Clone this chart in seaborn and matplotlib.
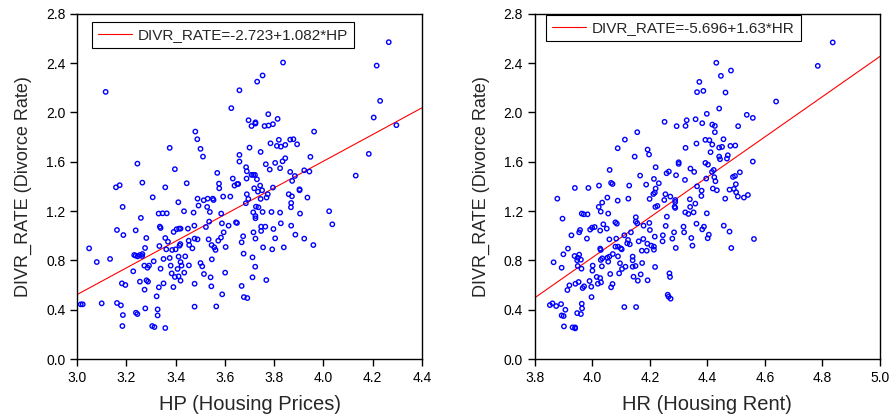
import numpy as np
import pandas as pd
import seaborn as sns
import matplotlib
matplotlib.use('Agg')
import matplotlib.pyplot as plt
from matplotlib.ticker import FormatStrFormatter, MultipleLocator

# points (HP vs divorce rate)
hp_x = [4.265, 3.836, 4.216, 3.753, 3.731, 3.116, 3.659, 4.23, 3.626, 3.776, 3.696, 3.724, 3.724,
        3.814, 4.204, 4.296, 3.761, 3.777, 3.795, 3.708, 3.480, 3.962, 3.488, 3.819, 3.865, 3.878,
        3.785, 3.893, 3.811, 3.827, 3.845, 3.376, 3.7, 3.501, 3.745, 4.184, 3.659, 3.511, 3.947,
        3.845, 3.659, 3.834, 3.245, 3.766, 3.804, 3.686, 3.782, 3.824, 3.397, 3.689, 3.922, 3.943,
        3.569, 3.865, 4.131, 3.884, 3.708, 3.715, 3.722, 3.688, 3.73, 3.873, 3.632, 3.265, 3.445,
        3.576, 3.639, 3.65, 3.654, 3.577, 3.719, 3.743, 3.795, 3.158, 3.173, 3.358, 3.734, 3.751,
        3.689, 3.774, 3.859, 3.872, 3.903, 3.903, 3.307, 3.489, 3.514, 3.53, 3.551, 3.554, 3.593,
        3.622, 3.695, 3.745, 3.769, 3.935, 3.411, 3.493, 3.528, 3.685, 3.869, 3.185, 3.726, 3.736,
        3.868, 3.539, 3.434, 3.473, 3.331, 3.347, 3.364, 3.585, 3.715, 3.753, 3.789, 3.824, 3.905,
        4.023, 3.724, 3.724, 3.259, 3.536, 3.645, 3.649, 3.588, 3.615, 3.476, 3.523, 3.336, 3.339,
        3.827, 4.036, 3.869, 3.747, 3.764, 3.45, 3.404, 3.414, 3.42, 3.238, 3.162, 3.392, 3.595,
        3.716, 3.747, 3.797, 3.188, 3.886, 3.674, 3.584, 3.281, 3.358, 3.477, 3.489, 3.534, 3.724,
        3.804, 3.922, 3.573, 3.453, 3.369, 3.668, 3.455, 3.419, 3.416, 3.546, 3.557, 3.959, 3.334,
        3.362, 3.276, 3.4, 3.386, 3.468, 3.562, 3.603, 3.049, 3.755, 3.792, 3.839, 3.232, 3.238,
        3.246, 3.255, 3.265, 3.264, 3.676, 3.439, 3.412, 3.134, 3.351, 3.376, 3.547, 3.712, 3.08,
        3.42, 3.311, 3.424, 3.38, 3.454, 3.273, 3.292, 3.286, 3.501, 3.508, 3.723, 3.339, 3.408,
        3.228, 3.435, 3.384, 3.515, 3.601, 3.397, 3.412, 3.542, 3.712, 3.42, 3.255, 3.282, 3.288,
        3.768, 3.182, 3.196, 3.477, 3.351, 3.668, 3.391, 3.332, 3.545, 3.274, 3.589, 3.323, 3.677,
        3.691, 3.015, 3.023, 3.1, 3.162, 3.178, 3.477, 3.565, 3.277, 3.327, 3.239, 3.245, 3.186,
        3.327, 3.184, 3.305, 3.314, 3.358]
hp_y = [2.57, 2.405, 2.38, 2.30, 2.25, 2.167, 2.18, 2.094, 2.035, 1.986, 1.937, 1.92, 1.91,
        1.948, 1.959, 1.897, 1.89, 1.894, 1.905, 1.89, 1.845, 1.845, 1.783, 1.778, 1.78, 1.783,
        1.75, 1.742, 1.729, 1.723, 1.737, 1.713, 1.715, 1.705, 1.68, 1.664, 1.656, 1.642, 1.64,
        1.629, 1.602, 1.604, 1.585, 1.58, 1.591, 1.556, 1.537, 1.548, 1.54, 1.523, 1.531, 1.521,
        1.51, 1.518, 1.488, 1.485, 1.494, 1.494, 1.494, 1.464, 1.458, 1.445, 1.464, 1.431, 1.426,
        1.423, 1.407, 1.42, 1.42, 1.385, 1.385, 1.407, 1.391, 1.393, 1.41, 1.393, 1.358, 1.369,
        1.337, 1.337, 1.337, 1.32, 1.377, 1.369, 1.312, 1.301, 1.288, 1.301, 1.301, 1.29, 1.318,
        1.318, 1.299, 1.299, 1.31, 1.31, 1.272, 1.245, 1.234, 1.264, 1.266, 1.234, 1.236, 1.231,
        1.231, 1.193, 1.199, 1.188, 1.18, 1.182, 1.182, 1.18, 1.19, 1.193, 1.193, 1.188, 1.18,
        1.199, 1.16, 1.142, 1.145, 1.115, 1.109, 1.104, 1.101, 1.082, 1.082, 1.071, 1.074, 1.063,
        1.101, 1.093, 1.082, 1.074, 1.074, 1.058, 1.053, 1.058, 1.058, 1.044, 1.047, 1.031, 1.028,
        1.028, 1.039, 1.055, 1.006, 1.009, 0.996, 0.985, 0.982, 0.982, 0.977, 0.971, 0.971, 0.977,
        0.979, 0.977, 0.96, 0.96, 0.952, 0.947, 0.925, 0.933, 0.92, 0.925, 0.906, 0.925, 0.917,
        0.89, 0.901, 0.89, 0.885, 0.898, 0.885, 0.909, 0.898, 0.906, 0.89, 0.906, 0.844, 0.839,
        0.833, 0.844, 0.852, 0.836, 0.855, 0.833, 0.831, 0.812, 0.812, 0.82, 0.809, 0.825, 0.787,
        0.787, 0.793, 0.758, 0.758, 0.76, 0.758, 0.758, 0.741, 0.779, 0.752, 0.749, 0.733, 0.731,
        0.712, 0.701, 0.695, 0.69, 0.701, 0.666, 0.671, 0.663, 0.663, 0.636, 0.628, 0.639, 0.628,
        0.641, 0.614, 0.601, 0.611, 0.614, 0.593, 0.584, 0.582, 0.59, 0.563, 0.525, 0.509, 0.503,
        0.495, 0.444, 0.444, 0.452, 0.455, 0.436, 0.425, 0.427, 0.411, 0.403, 0.376, 0.365, 0.357,
        0.354, 0.268, 0.268, 0.26, 0.252]

# points (HR vs divorce rate)
hr_x = [4.836, 4.431, 4.784, 4.482, 4.447, 4.372, 4.364, 4.386, 4.463, 4.639, 4.441, 4.537, 4.558,
        4.398, 4.359, 4.328, 4.251, 4.382, 4.417, 4.426, 4.293, 4.324, 4.507, 4.426, 4.156, 4.113,
        4.393, 4.407, 4.456, 4.362, 4.417, 4.441, 4.451, 4.48, 4.497, 4.088, 4.324, 4.192, 4.197,
        4.411, 4.147, 4.441, 4.444, 4.468, 4.471, 4.3, 4.3, 4.393, 4.402, 4.558, 4.22, 4.341,
        4.354, 4.422, 4.416, 4.513, 4.258, 4.266, 4.291, 4.166, 4.424, 4.428, 4.396, 4.489, 4.496,
        4.06, 4.214, 4.322, 4.231, 4.065, 4.07, 4.187, 4.128, 4.023, 4.364, 4.499, 3.939, 3.986,
        4.22, 4.419, 4.433, 4.38, 4.477, 4.492, 4.212, 4.217, 4.254, 4.271, 4.379, 4.5, 4.506,
        4.527, 4.541, 4.052, 4.125, 4.199, 4.25, 4.288, 4.288, 4.339, 4.462, 3.878, 4.034, 4.088,
        4.358, 4.286, 4.288, 4.219, 4.226, 4.022, 4.34, 4.029, 4.055, 4.323, 4.334, 4.352, 4.398,
        3.963, 3.97, 3.983, 4.151, 4.259, 3.896, 4.151, 4.156, 4.08, 4.085, 4.198, 4.038, 4.362,
        4.178, 4.255, 4.317, 4.388, 4.457, 3.992, 3.999, 4.008, 4.05, 4.2, 4.382, 3.957, 3.954,
        4.027, 4.134, 4.284, 4.477, 4.319, 4.111, 4.217, 4.245, 4.405, 4.401, 3.927, 3.981, 4.059,
        4.083, 4.278, 4.344, 4.562, 4.161, 4.177, 4.121, 4.124, 4.13, 4.244, 4.191, 4.205, 4.214,
        4.348, 4.08, 4.089, 4.099, 4.102, 4.027, 4.029, 3.915, 4.29, 4.483, 4.172, 4.189, 4.214,
        3.899, 3.938, 3.954, 3.949, 4.071, 4.089, 4.14, 4.052, 4.059, 4.034, 4.029, 3.947, 3.96,
        4.14, 3.865, 4.055, 4.096, 4.173, 3.949, 4.001, 4.033, 4.15, 4.14, 4.115, 4.218, 3.893,
        3.962, 4.103, 4.0, 4.093, 4.062, 4.168, 4.268, 4.27, 4.143, 4.015, 4.027, 4.158, 4.192,
        3.952, 4.03, 4.019, 3.99, 3.941, 4.07, 4.065, 3.92, 3.971, 3.966, 3.996, 3.913, 4.262,
        4.265, 4.272, 3.997, 3.852, 3.861, 3.874, 3.891, 3.963, 3.964, 3.906, 4.111, 4.152, 3.947,
        3.96, 3.893, 3.9, 3.901, 3.931, 3.94, 3.94]
hr_y = [2.568, 2.403, 2.378, 2.34, 2.297, 2.248, 2.165, 2.175, 2.162, 2.089, 2.032, 1.981, 1.956,
        1.989, 1.945, 1.937, 1.924, 1.913, 1.902, 1.891, 1.889, 1.891, 1.889, 1.84, 1.84, 1.78,
        1.778, 1.775, 1.783, 1.748, 1.74, 1.715, 1.721, 1.729, 1.732, 1.71, 1.713, 1.699, 1.659,
        1.678, 1.642, 1.642, 1.621, 1.626, 1.653, 1.596, 1.583, 1.591, 1.577, 1.602, 1.556, 1.545,
        1.518, 1.534, 1.518, 1.515, 1.507, 1.521, 1.491, 1.488, 1.475, 1.442, 1.464, 1.477, 1.485,
        1.534, 1.461, 1.453, 1.426, 1.429, 1.42, 1.415, 1.407, 1.407, 1.401, 1.418, 1.388, 1.388,
        1.383, 1.383, 1.369, 1.366, 1.374, 1.38, 1.339, 1.35, 1.337, 1.318, 1.323, 1.353, 1.318,
        1.31, 1.331, 1.31, 1.301, 1.299, 1.29, 1.29, 1.274, 1.296, 1.301, 1.301, 1.269, 1.285,
        1.261, 1.236, 1.226, 1.234, 1.242, 1.234, 1.234, 1.196, 1.18, 1.19, 1.177, 1.19, 1.182,
        1.18, 1.174, 1.174, 1.15, 1.155, 1.139, 1.115, 1.101, 1.109, 1.098, 1.104, 1.093, 1.098,
        1.082, 1.08, 1.074, 1.074, 1.082, 1.05, 1.066, 1.071, 1.058, 1.047, 1.052, 1.047, 1.028,
        1.042, 1.028, 1.028, 1.034, 1.028, 1.004, 0.993, 1.004, 1.009, 0.98, 1.004, 0.977, 0.971,
        0.977, 0.977, 0.982, 0.974, 0.955, 0.974, 0.939, 0.966, 0.931, 0.955, 0.936, 0.92, 0.912,
        0.92, 0.912, 0.912, 0.898, 0.89, 0.896, 0.885, 0.896, 0.901, 0.901, 0.879, 0.879, 0.887,
        0.85, 0.836, 0.847, 0.822, 0.852, 0.833, 0.831, 0.822, 0.831, 0.817, 0.804, 0.801, 0.806,
        0.801, 0.785, 0.79, 0.777, 0.779, 0.755, 0.758, 0.752, 0.755, 0.749, 0.749, 0.747, 0.741,
        0.733, 0.731, 0.717, 0.695, 0.69, 0.687, 0.695, 0.666, 0.668, 0.666, 0.657, 0.636, 0.639,
        0.625, 0.622, 0.611, 0.633, 0.611, 0.609, 0.582, 0.598, 0.59, 0.576, 0.587, 0.56, 0.522,
        0.506, 0.49, 0.503, 0.438, 0.452, 0.43, 0.446, 0.449, 0.411, 0.4, 0.422, 0.422, 0.373,
        0.365, 0.354, 0.349, 0.265, 0.257, 0.257, 0.249]

# fitted lines as printed in the legends
hp_fit = (-2.723, 1.082)
hr_fit = (-5.696, 1.63)

sns.set_style('ticks')
plt.rcParams['font.family'] = ['Liberation Sans', 'DejaVu Sans']

fig = plt.figure(figsize=(8.96, 4.19), dpi=100)
ax1 = fig.add_axes([0.086, 0.143, 0.385, 0.824])
ax2 = fig.add_axes([0.597, 0.143, 0.385, 0.824])

panels = [
    (ax1, hp_x, hp_y, hp_fit, 'HP', (3.0, 4.4), 'HP (Housing Prices)', (0.043, 0.977)),
    (ax2, hr_x, hr_y, hr_fit, 'HR', (3.8, 5.0), 'HR (Housing Rent)', (0.032, 0.997)),
]

for ax, xs, ys, fit, name, xlim, xlabel, legpos in panels:
    df = pd.DataFrame({'x': xs, 'y': ys})
    sns.scatterplot(data=df, x='x', y='y', ax=ax, marker='o', s=10,
                    facecolor='none', edgecolor='#0000ff', linewidth=1.0, zorder=3)
    line = pd.DataFrame({'x': list(xlim)})
    line['y'] = fit[0] + fit[1] * line['x']
    label = f'DIVR_RATE={fit[0]:g}+{fit[1]:g}*{name}'
    sns.lineplot(data=line, x='x', y='y', ax=ax, color='#ff0000', linewidth=0.8,
                 label=label, zorder=2)
    ax.set_xlim(*xlim)
    ax.set_ylim(0, 2.8)
    ax.xaxis.set_major_locator(MultipleLocator(0.2))
    ax.yaxis.set_major_locator(MultipleLocator(0.4))
    ax.xaxis.set_major_formatter(FormatStrFormatter('%.1f'))
    ax.yaxis.set_major_formatter(FormatStrFormatter('%.1f'))
    ax.tick_params(direction='out', length=5, width=1.0, labelsize=10, colors='black')
    for sp in ax.spines.values():
        sp.set_color('black')
        sp.set_linewidth(1.0)
    ax.set_xlabel(xlabel, fontsize=14.5, labelpad=7)
    ax.set_ylabel('DIVR_RATE (Divorce Rate)', fontsize=13, labelpad=10)
    leg = ax.legend(loc='upper left', bbox_to_anchor=legpos, fontsize=11,
                    fancybox=False, shadow=False, framealpha=1, handlelength=2.2,
                    handletextpad=0.4, borderpad=0.4, borderaxespad=0,
                    edgecolor='black')
    leg.get_frame().set_linewidth(0.8)

fig.savefig('out.png', dpi=100)
